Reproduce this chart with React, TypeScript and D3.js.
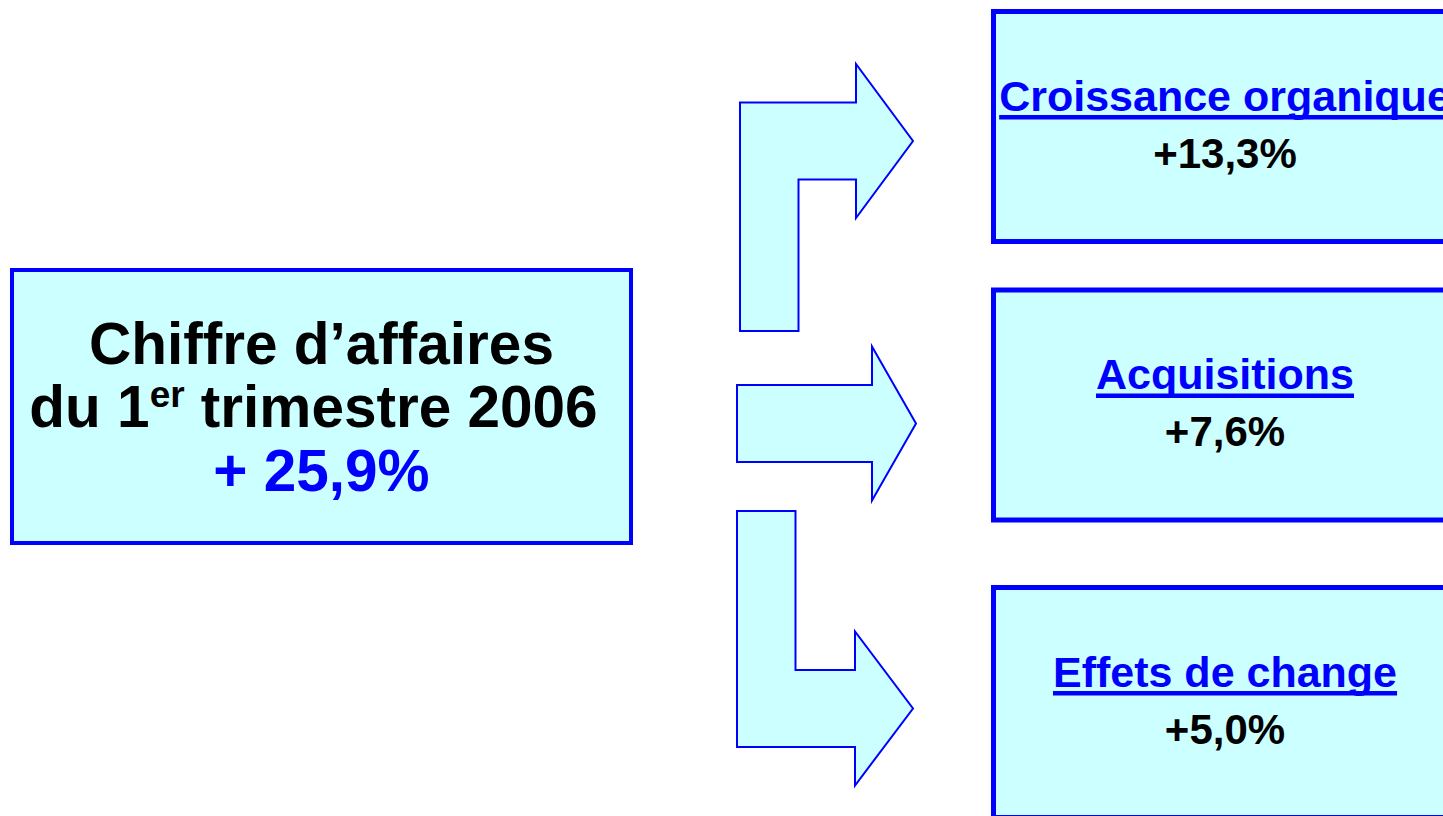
import { useEffect, useRef } from "react";
import * as d3 from "d3";

// values
const categories = ["Croissance organique", "Acquisitions", "Effets de change"];
const growthValues = [13.3, 7.6, 5.0];
const totalGrowth = 25.9;
const titleLine = "Chiffre d’affaires";
const periodParts = ["du 1", "er", " trimestre 2006"];

const BLUE = "#0000ff";
const FILL = "#ccffff";
const FONT = "'Liberation Sans', Arial, Helvetica, sans-serif";

// french number format: comma as decimal separator
const fr = d3.formatLocale({ decimal: ",", thousands: " ", grouping: [3], currency: ["", " €"] });
const fmtGrowth = fr.format("+.1f");
const fmtTotal = fr.format(".1f");

function App() {
  const svgRef = useRef<SVGSVGElement>(null);

  useEffect(() => {
    const svg = d3.select(svgRef.current);
    svg.selectAll("*").remove();

    const width = 1443;
    const rows = categories.map((name, i) => ({ name, value: growthValues[i] }));

    // vertical placement of the three boxes and arrows
    const boxTop = d3.scaleOrdinal<string, number>().domain(categories).range([11.5, 290, 587.5]);
    const arrowMid = d3.scaleOrdinal<string, number>().domain(categories).range([141, 423.5, 708.5]);
    const arrowTail = d3.scaleOrdinal<string, any>().domain(categories).range([331, null, 511]);
    const arrowLeft = d3.scaleOrdinal<string, number>().domain(categories).range([740, 737, 737]);
    const headBase = d3.scaleOrdinal<string, number>().domain(categories).range([856, 872, 855]);
    const tipX = d3.scaleOrdinal<string, number>().domain(categories).range([913, 916, 913]);

    const boxLeft = 993.5;
    const boxH = 230;
    const boxCenter = 1225;
    const shaftW = 58.5;
    const bandHalf = 38.5;
    const headHalf = 77;

    const arrowPath = (name: string) => {
      const p = d3.path();
      const mid = arrowMid(name);
      const tail = arrowTail(name);
      const x0 = arrowLeft(name);
      const xb = headBase(name);
      const xt = tipX(name);
      if (tail === null) {
        p.moveTo(x0, mid - bandHalf);
        p.lineTo(xb, mid - bandHalf);
        p.lineTo(xb, mid - headHalf);
        p.lineTo(xt, mid);
        p.lineTo(xb, mid + headHalf);
        p.lineTo(xb, mid + bandHalf);
        p.lineTo(x0, mid + bandHalf);
      } else if (tail > mid) {
        // bends up then right
        p.moveTo(x0, tail);
        p.lineTo(x0, mid - bandHalf);
        p.lineTo(xb, mid - bandHalf);
        p.lineTo(xb, mid - headHalf);
        p.lineTo(xt, mid);
        p.lineTo(xb, mid + headHalf);
        p.lineTo(xb, mid + bandHalf);
        p.lineTo(x0 + shaftW, mid + bandHalf);
        p.lineTo(x0 + shaftW, tail);
      } else {
        // goes down then right
        p.moveTo(x0, tail);
        p.lineTo(x0 + shaftW, tail);
        p.lineTo(x0 + shaftW, mid - bandHalf);
        p.lineTo(xb, mid - bandHalf);
        p.lineTo(xb, mid - headHalf);
        p.lineTo(xt, mid);
        p.lineTo(xb, mid + headHalf);
        p.lineTo(xb, mid + bandHalf);
        p.lineTo(x0, mid + bandHalf);
      }
      p.closePath();
      return p.toString();
    };

    // main box on the left
    const main = svg.append("g");
    main
      .append("rect")
      .attr("x", 12)
      .attr("y", 270)
      .attr("width", 619)
      .attr("height", 273)
      .attr("fill", FILL)
      .attr("stroke", BLUE)
      .attr("stroke-width", 4);

    const mainText = main
      .append("text")
      .attr("text-anchor", "middle")
      .attr("font-family", FONT)
      .attr("font-weight", "bold")
      .attr("font-size", 58.5);
    mainText.append("tspan").attr("x", 321.5).attr("y", 364).text(titleLine);
    const line2 = mainText.append("tspan").attr("x", 313.5).attr("y", 427);
    line2.append("tspan").text(periodParts[0]);
    line2.append("tspan").attr("font-size", 37).attr("dy", -20).text(periodParts[1]);
    line2.append("tspan").attr("dy", 20).text(periodParts[2]);
    mainText
      .append("tspan")
      .attr("x", 321.5)
      .attr("y", 491)
      .attr("fill", BLUE)
      .text("+ " + fmtTotal(totalGrowth) + "%");

    // arrows
    svg
      .append("g")
      .selectAll("path")
      .data(rows)
      .join("path")
      .attr("d", (d) => arrowPath(d.name))
      .attr("fill", FILL)
      .attr("stroke", BLUE)
      .attr("stroke-width", 2)
      .attr("stroke-linejoin", "miter");

    // result boxes on the right
    const box = svg
      .append("g")
      .selectAll("g")
      .data(rows)
      .join("g")
      .attr("transform", (d) => `translate(0,${boxTop(d.name)})`);

    box
      .append("rect")
      .attr("x", boxLeft)
      .attr("y", 0)
      .attr("width", width - boxLeft + 60)
      .attr("height", boxH)
      .attr("fill", FILL)
      .attr("stroke", BLUE)
      .attr("stroke-width", 5);

    const titles = box
      .append("text")
      .attr("x", boxCenter)
      .attr("y", 99)
      .attr("text-anchor", "middle")
      .attr("font-family", FONT)
      .attr("font-weight", "bold")
      .attr("font-size", 43)
      .attr("fill", BLUE)
      .text((d) => d.name);

    // underline drawn as a bar under each title
    titles.each(function () {
      const node = this as SVGTextElement;
      const len = node.getComputedTextLength();
      d3.select(node.parentNode as SVGGElement)
        .append("rect")
        .attr("x", boxCenter - len / 2)
        .attr("y", 103.5)
        .attr("width", len)
        .attr("height", 4.5)
        .attr("fill", BLUE);
    });

    box
      .append("text")
      .attr("x", boxCenter)
      .attr("y", 156)
      .attr("text-anchor", "middle")
      .attr("font-family", FONT)
      .attr("font-weight", "bold")
      .attr("font-size", 42)
      .attr("fill", "#000")
      .text((d) => fmtGrowth(d.value) + "%");
  }, []);

  return (
    <svg
      ref={svgRef}
      width={1443}
      height={816}
      style={{ position: "absolute", left: 0, top: 0, background: "#fff" }}
    />
  );
}

export default App;
